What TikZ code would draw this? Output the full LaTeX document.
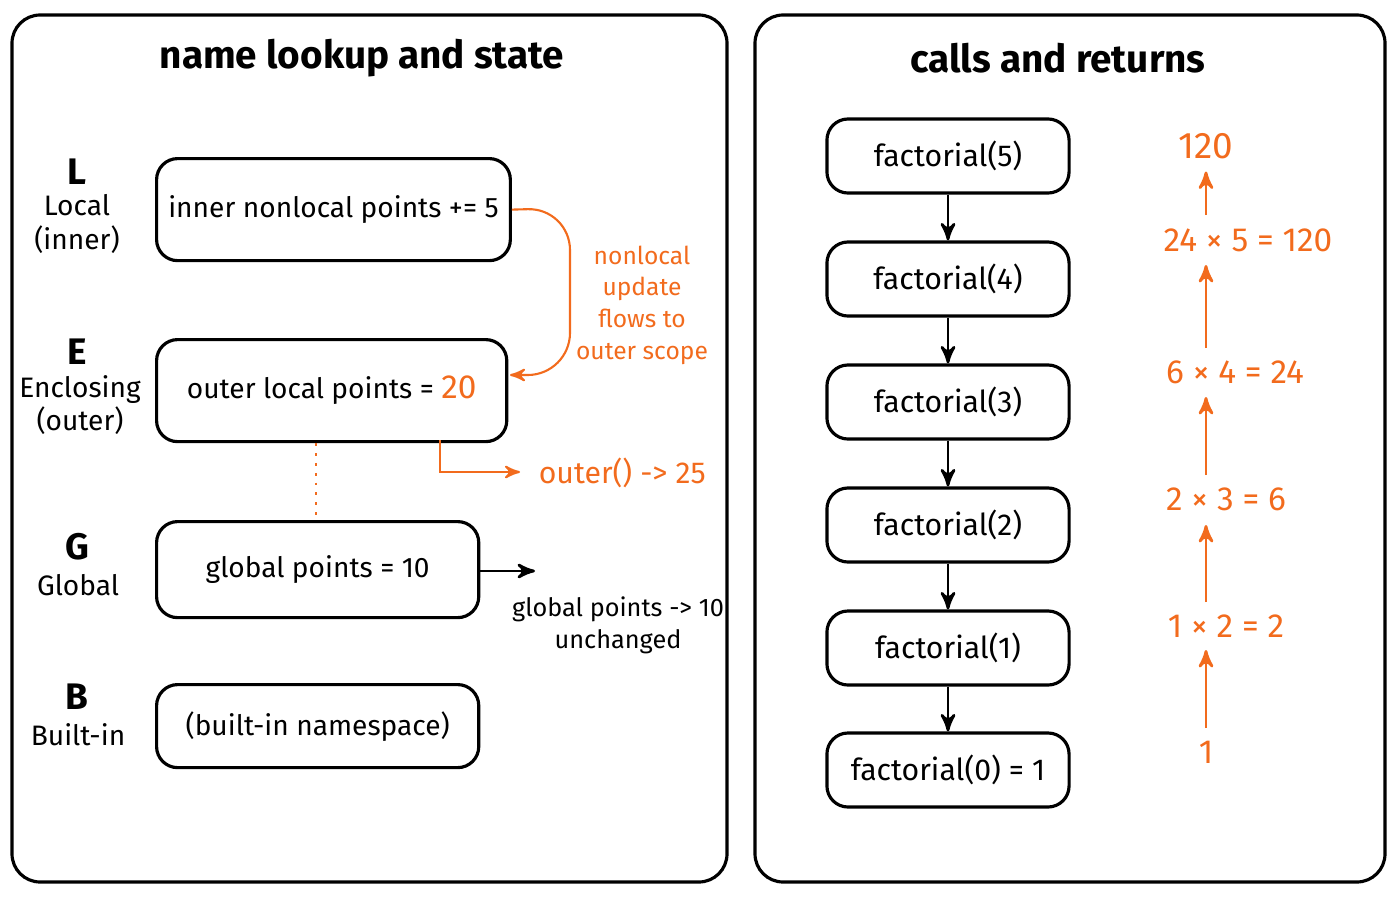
\documentclass[tikz,border=0pt]{standalone}
\usepackage{fontspec}
\setmainfont{Fira Sans}
\usetikzlibrary{positioning, arrows}
\definecolor{flow}{HTML}{F26B1D}
\begin{document}
\begin{tikzpicture}[x=0.01cm, y=-0.01cm, >=stealth', semithick,
    panel/.style={draw, line width=0.9pt, rounded corners=8pt},
    scopebox/.style={draw, line width=0.9pt, rounded corners=6pt, anchor=north west, font=\fontsize{8}{10}\selectfont},
    callbox/.style={draw, line width=0.9pt, rounded corners=6pt, minimum width=2.42cm, minimum height=0.74cm, font=\fontsize{8.6}{10}\selectfont},
    title/.style={font=\fontsize{11}{13}\selectfont\bfseries},
    letter/.style={font=\fontsize{10.5}{12}\selectfont\bfseries},
    scopename/.style={font=\fontsize{8}{9.5}\selectfont, align=center},
    note/.style={text=flow, font=\fontsize{7}{9}\selectfont, align=center},
    retstep/.style={text=flow, font=\fontsize{9.5}{11}\selectfont}]
    \useasboundingbox (0,0) rectangle (1400,900);
    % panels
    \draw[panel] (12,15) rectangle (727,882);
    \draw[panel] (755,15) rectangle (1385,882);
    \node[title] (lefttitle) at (362,58) {name lookup and state};
    \node[title] (righttitle) at (1058,58) {calls and returns};

    % LEGB scopes
    \node[letter] (lL) at (77,172) {L};
    \node[scopename] (nL) at (77,224) {Local\\(inner)};
    \node[letter] (lE) at (77,352) {E};
    \node[scopename] (nE) at (80,405) {Enclosing\\(outer)};
    \node[letter] (lG) at (77,547) {G};
    \node[scopename] (nG) at (78,585) {Global};
    \node[letter] (lB) at (77,697) {B};
    \node[scopename] (nB) at (78,735) {Built-in};

    \node[scopebox, minimum width=3.5cm, minimum height=1.02cm] (inner) at (155,157) {inner nonlocal points += 5};
    \node[scopebox, minimum width=3.5cm, minimum height=1.02cm] (outer) at (155,338) {outer local points = \textcolor{flow}{\fontsize{9.5}{11}\selectfont 20}};
    \node[scopebox, minimum width=3.22cm, minimum height=0.96cm] (global) at (155,520) {global points = 10};
    \node[scopebox, minimum width=3.22cm, minimum height=0.83cm] (builtin) at (155,683) {(built-in namespace)};

    \coordinate (nlturn) at (570,208);
    \coordinate (nlend) at (510,375);
    \draw[->, flow, rounded corners=12pt] (inner.east) -- (nlturn) |- (nlend);
    \node[note] (nlnote) at (642,305) {nonlocal\\update\\flows to\\outer scope};

    \coordinate (retstart) at (440,440);
    \coordinate (retend) at (520,472);
    \draw[->, flow] (retstart) |- (retend);
    \node[retstep, anchor=west, font=\fontsize{8.6}{10}\selectfont] (retnote) at (526,473) {outer() -> 25};

    \draw[flow, dotted, thick] (outer.south -| 316,0) -- (global.north -| 316,0);

    \coordinate (gend) at (535,571);
    \draw[->, thick] (global.east |- gend) -- (gend);
    \node[font=\fontsize{7.2}{9}\selectfont, align=center] (gnote) at (618,625) {global points -> 10\\unchanged};

    % recursion
    \node[callbox] (f5) at (948,156) {factorial(5)};
    \node[callbox] (f4) at (948,279) {factorial(4)};
    \node[callbox] (f3) at (948,402) {factorial(3)};
    \node[callbox] (f2) at (948,525) {factorial(2)};
    \node[callbox] (f1) at (948,648) {factorial(1)};
    \node[callbox] (f0) at (948,770) {factorial(0) = 1};
    \foreach \a/\b in {f5/f4, f4/f3, f3/f2, f2/f1, f1/f0}
        \draw[->, thick] (\a) -- (\b);

    \node[retstep, font=\fontsize{10.5}{12}\selectfont] (r5) at (1206,146) {120};
    \node[retstep] (r4) at (1248,240) {24 × 5 = 120};
    \node[retstep] (r3) at (1235,372) {6 × 4 = 24};
    \node[retstep] (r2) at (1226,499) {2 × 3 = 6};
    \node[retstep] (r1) at (1226,626) {1 × 2 = 2};
    \node[retstep] (r0) at (1206,752) {1};
    \draw[->, flow, thick] (1206,215) -- (r5);
    \draw[->, flow, thick] (1206,348) -- (1206,265);
    \draw[->, flow, thick] (1206,475) -- (1206,397);
    \draw[->, flow, thick] (1206,602) -- (1206,525);
    \draw[->, flow, thick] (r0) -- (1206,650);
\end{tikzpicture}
\end{document}
